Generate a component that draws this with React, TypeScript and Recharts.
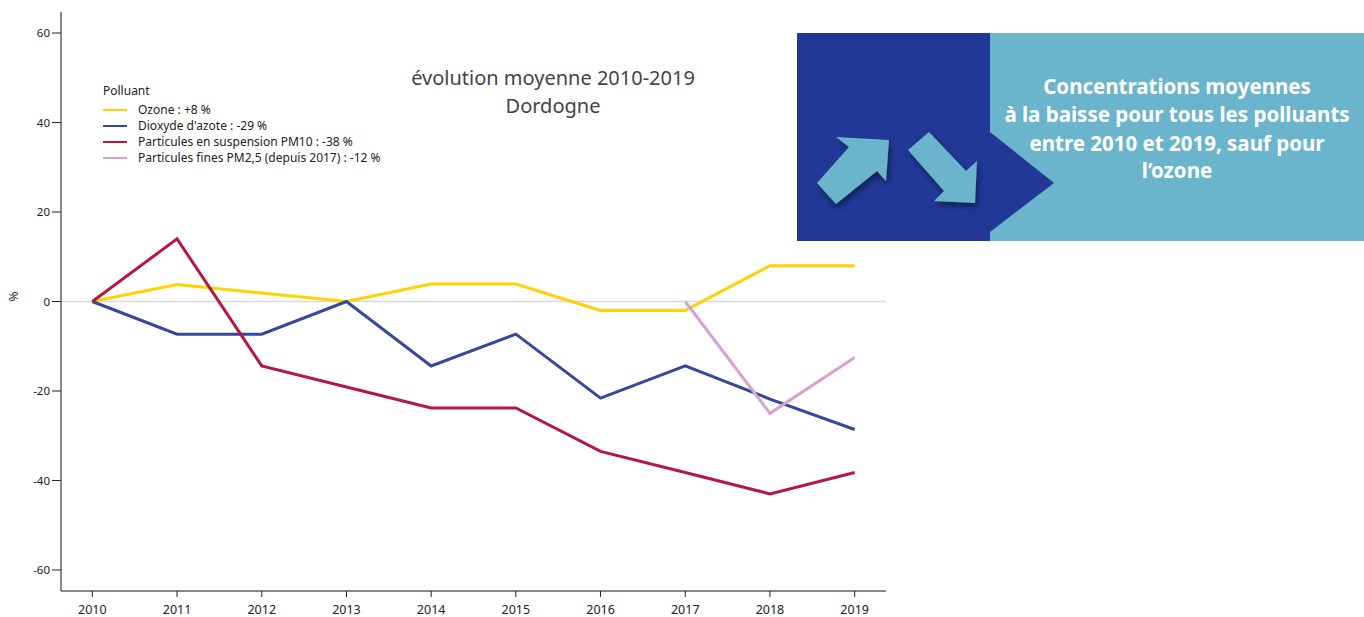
import { LineChart, Line, XAxis, YAxis, ReferenceLine } from 'recharts';

const years = [2010, 2011, 2012, 2013, 2014, 2015, 2016, 2017, 2018, 2019];
const ozone = [0, 3.8, 1.9, 0, 3.9, 3.9, -2, -2, 8, 8];
const dioxyde = [0, -7.3, -7.3, 0, -14.4, -7.3, -21.6, -14.4, -21.8, -28.6];
const pm10 = [0, 14, -14.4, -19.1, -23.8, -23.8, -33.5, -38.2, -43, -38.2];
const pm25 = [null, null, null, null, null, null, null, 0, -25, -12.5];
const yTicks = [-60, -40, -20, 0, 20, 40, 60];

const SERIES = [
  { key: 'ozone', label: 'Ozone : +8 %', color: '#ffd200' },
  { key: 'dioxyde', label: "Dioxyde d'azote : -29 %", color: '#34499a' },
  { key: 'pm10', label: 'Particules en suspension PM10 : -38 %', color: '#b5173f' },
  { key: 'pm25', label: 'Particules fines PM2,5 (depuis 2017) : -12 %', color: '#d4a3d2' },
];

const data = years.map((year, i) => ({
  year,
  ozone: ozone[i],
  dioxyde: dioxyde[i],
  pm10: pm10[i],
  pm25: pm25[i],
}));

const FONT = '"Noto Sans", "Open Sans", sans-serif';

function LegendBox() {
  return (
    <div
      style={{
        position: 'absolute',
        left: 103,
        top: 83,
        fontFamily: FONT,
        fontSize: 12,
        color: '#222',
        lineHeight: '16px',
      }}
    >
      <div style={{ marginBottom: 3 }}>Polluant</div>
      {SERIES.map((s) => (
        <div key={s.key} style={{ display: 'flex', alignItems: 'center', whiteSpace: 'nowrap' }}>
          <span style={{ display: 'inline-block', width: 24, height: 2, background: s.color, marginRight: 11 }} />
          {s.label}
        </div>
      ))}
    </div>
  );
}

function InfoBox() {
  return (
    <svg width={567} height={208} style={{ position: 'absolute', left: 797, top: 33 }}>
      <defs>
        <filter id="shadow" x="-20%" y="-20%" width="150%" height="150%">
          <feDropShadow dx="2" dy="4" stdDeviation="3" floodColor="#000" floodOpacity="0.45" />
        </filter>
      </defs>
      <rect x={0} y={0} width={567} height={208} fill="#6bb5cc" />
      <polygon points="0,0 193,0 193,99 257,150 193,199 193,208 0,208" fill="#213897" />
      <g filter="url(#shadow)" fill="#6bb5cc">
        <polygon points="20,150 52,114 39,104 92,107 89,148 80,138 39,171" />
        <polygon points="111,117 132,99 169,138 180,128 178,170 137,168 147,158" />
      </g>
      <text textAnchor="middle" fill="#fff" fontFamily={FONT} fontWeight="bold" fontSize={20.5}>
        <tspan x={380} y={61}>Concentrations moyennes</tspan>
        <tspan x={380} y={89}>à la baisse pour tous les polluants</tspan>
        <tspan x={380} y={118}>entre 2010 et 2019, sauf pour</tspan>
        <tspan x={380} y={145}>l’ozone</tspan>
      </text>
    </svg>
  );
}

export default function App() {
  return (
    <div style={{ position: 'absolute', left: 0, top: 0, width: 1364, height: 617, background: '#fff' }}>
      <LineChart
        width={1364}
        height={617}
        data={data}
        margin={{ top: 12, right: 478, left: 20, bottom: 0 }}
      >
        <XAxis
          dataKey="year"
          type="number"
          domain={[2009.63, 2019.37]}
          ticks={years}
          allowDataOverflow
          height={26}
          tick={{ fill: '#222', fontSize: 12.5, fontFamily: FONT }}
          tickLine={{ stroke: '#222' }}
          tickSize={6}
          tickMargin={8}
          axisLine={{ stroke: '#111' }}
        />
        <YAxis
          type="number"
          domain={[-64.7, 64.7]}
          ticks={yTicks}
          allowDataOverflow
          width={41}
          tick={{ fill: '#222', fontSize: 11.5, fontFamily: FONT }}
          tickLine={{ stroke: '#222' }}
          tickSize={9}
          axisLine={{ stroke: '#111' }}
          label={{ value: '%', angle: -90, position: 'insideLeft', offset: -6, fill: '#222', fontSize: 12, fontFamily: FONT }}
        />
        <ReferenceLine y={0} stroke="#d9d9d9" strokeWidth={1.5} />
        {SERIES.map((s) => (
          <Line
            key={s.key}
            type="linear"
            dataKey={s.key}
            name={s.label}
            stroke={s.color}
            strokeWidth={3}
            dot={false}
            activeDot={false}
            connectNulls={false}
            isAnimationActive={false}
          />
        ))}
      </LineChart>
      <LegendBox />
      <div
        style={{
          position: 'absolute',
          left: 353,
          top: 64,
          width: 400,
          textAlign: 'center',
          fontFamily: FONT,
          fontSize: 20,
          lineHeight: '28px',
          color: '#444',
        }}
      >
        évolution moyenne 2010-2019
        <br />
        Dordogne
      </div>
      <InfoBox />
    </div>
  );
}
